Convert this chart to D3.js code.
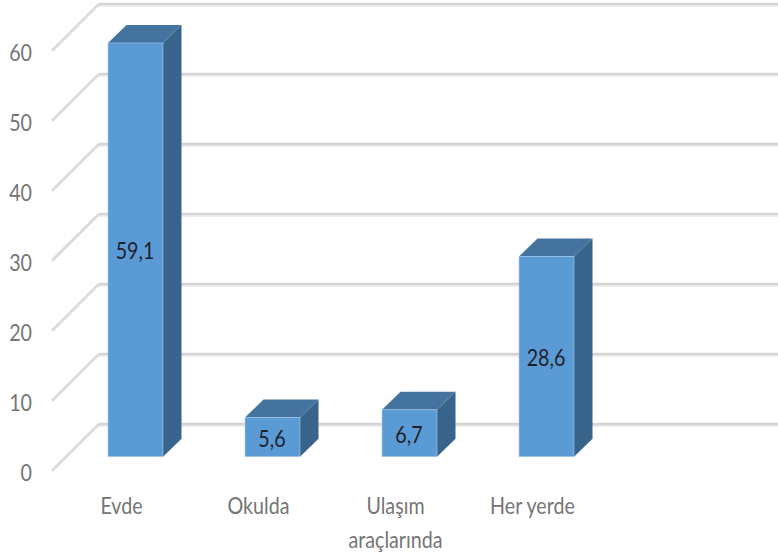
<!DOCTYPE html>
<html>
<head>
<meta charset="utf-8">
<script src="https://cdn.jsdelivr.net/npm/d3@7"></script>
<style>
  html, body { margin: 0; padding: 0; background: #fff; }
  svg { display: block; }
  text { font-family: Lato, sans-serif; font-size: 24px; }
</style>
</head>
<body>
<div class="chart"></div>
<script>
var categories = ["Evde", "Okulda", "Ulaşım araçlarında", "Her yerde"];
var values = [59.1, 5.6, 6.7, 28.6];
var valueLabels = ["59,1", "5,6", "6,7", "28,6"];
var yTicks = [0, 10, 20, 30, 40, 50, 60];

var width = 778, height = 560;
var squeeze = 0.82;

// the three depth planes of the 3d box: axis edge, bar front, back wall
var axisBase = 470.7, barBase = 456.7, wallBase = 424;
var axisX = 52, wallX = 99;
var depthX = 18.5, depthY = 18;

var svg = d3.select('.chart').append('svg')
  .attr('width', width)
  .attr('height', height);

var y = d3.scaleLinear().domain([0, 60]).range([0, -420]);
var x = d3.scaleBand().domain(categories).range([67, 615])
  .paddingInner(82 / 137).paddingOuter(41 / 137);

// gridlines on the wall
var grid = svg.append('g');
grid.selectAll('line.shadow')
  .data(yTicks)
  .enter().append('line')
  .attr('class', 'shadow')
  .attr('x1', wallX)
  .attr('x2', width)
  .attr('y1', function(d) { return wallBase + y(d) + 1; })
  .attr('y2', function(d) { return wallBase + y(d) + 1; })
  .attr('stroke', '#eeeeee')
  .attr('stroke-width', 4);
grid.selectAll('line.wall')
  .data(yTicks)
  .enter().append('line')
  .attr('class', 'wall')
  .attr('x1', wallX)
  .attr('x2', width)
  .attr('y1', function(d) { return wallBase + y(d); })
  .attr('y2', function(d) { return wallBase + y(d); })
  .attr('stroke', '#d4d4d4')
  .attr('stroke-width', 2.5);

// the slanted bit on the left is paler
grid.selectAll('line.side')
  .data(yTicks)
  .enter().append('line')
  .attr('class', 'side')
  .attr('x1', axisX)
  .attr('x2', wallX)
  .attr('y1', function(d) { return axisBase + y(d); })
  .attr('y2', function(d) { return wallBase + y(d); })
  .attr('stroke', '#dcdcdc')
  .attr('stroke-width', 3);

// y axis labels
var yAxis = svg.append('g')
  .attr('transform', 'translate(32,' + axisBase + ')')
  .call(d3.axisLeft(y).tickValues(yTicks).tickSize(0).tickPadding(0));
yAxis.select('.domain').remove();
yAxis.selectAll('text')
  .attr('x', 0)
  .attr('y', 2)
  .attr('transform', 'scale(' + squeeze + ',1)')
  .style('font-family', 'Lato, sans-serif')
  .style('font-size', '24px')
  .attr('fill', '#757575');

var bars = svg.selectAll('g.bar')
  .data(values)
  .enter().append('g')
  .attr('class', 'bar');

// side face
bars.append('path')
  .attr('fill', '#38638a')
  .attr('d', function(d, i) {
    var x1 = x(categories[i]) + x.bandwidth();
    var top = barBase + y(d);
    return 'M' + x1 + ',' + top + 'L' + (x1 + depthX) + ',' + (top - depthY) +
      'L' + (x1 + depthX) + ',' + (barBase - depthY) + 'L' + x1 + ',' + barBase + 'Z';
  });

// top face
bars.append('path')
  .attr('fill', '#44739f')
  .attr('d', function(d, i) {
    var x0 = x(categories[i]);
    var x1 = x0 + x.bandwidth();
    var top = barBase + y(d);
    return 'M' + x0 + ',' + top + 'L' + (x0 + depthX) + ',' + (top - depthY) +
      'L' + (x1 + depthX) + ',' + (top - depthY) + 'L' + x1 + ',' + top + 'Z';
  });

// front face
bars.append('rect')
  .attr('x', function(d, i) { return x(categories[i]); })
  .attr('y', function(d) { return barBase + y(d); })
  .attr('width', x.bandwidth())
  .attr('height', function(d) { return -y(d); })
  .attr('fill', '#5b9bd5')
  .attr('stroke', '#a9cbe9')
  .attr('stroke-width', 0.6);

// value labels in the middle of the front face
bars.append('text')
  .attr('text-anchor', 'middle')
  .attr('fill', '#1f1f2a')
  .attr('transform', function(d, i) {
    var cx = x(categories[i]) + x.bandwidth() / 2 - 0.5;
    var cy = barBase + y(d) / 2 + 9.5;
    return 'translate(' + cx + ',' + cy + ') scale(' + squeeze + ',1)';
  })
  .text(function(d, i) { return valueLabels[i]; });

// category labels, sit a bit left of the bars
var catLabels = svg.selectAll('g.cat')
  .data(categories)
  .enter().append('g')
  .attr('class', 'cat')
  .attr('transform', function(d) {
    return 'translate(' + (x(d) + x.bandwidth() / 2 - 14) + ',514)';
  });
catLabels.each(function(d) {
  var g = d3.select(this);
  var words = d === "Ulaşım araçlarında" ? d.split(' ') : [d];
  words.forEach(function(w, i) {
    g.append('text')
      .attr('text-anchor', 'middle')
      .attr('fill', '#757575')
      .attr('transform', 'translate(0,' + (i * 34) + ') scale(' + squeeze + ',1)')
      .text(w);
  });
});
</script>
</body>
</html>
